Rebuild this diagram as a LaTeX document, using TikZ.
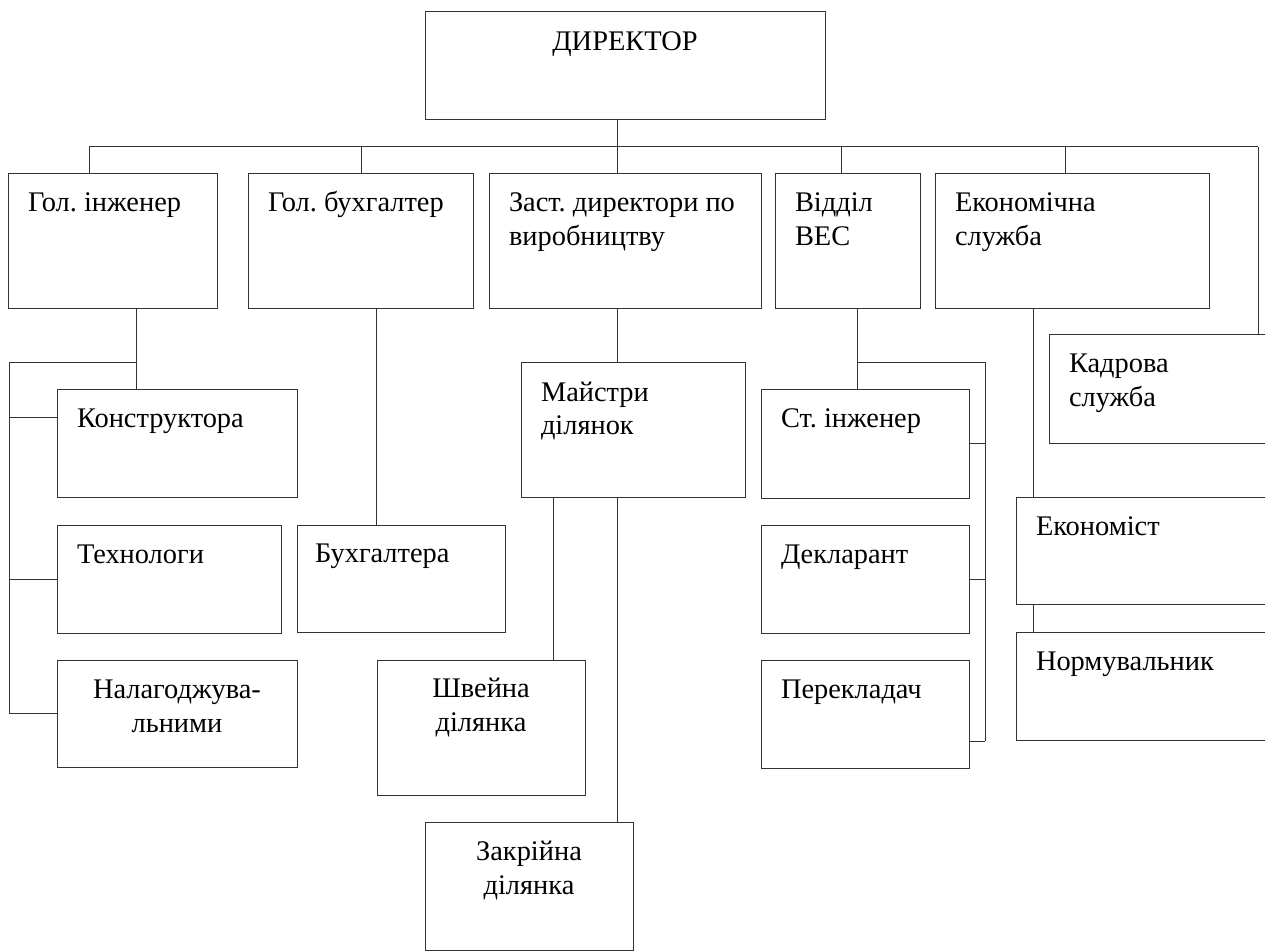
\documentclass[tikz,border=0pt]{standalone}
\usepackage{fontspec}
\setmainfont{Liberation Serif}
\usetikzlibrary{calc}
\tikzset{
  box/.style={draw=black!80, line width=0.5pt, rectangle, inner sep=0pt, outer sep=0pt},
  txt/.style={font=\fontsize{14.2}{17}\selectfont, inner sep=0pt, outer sep=0pt, align=left},
  ctxt/.style={font=\fontsize{14.2}{17}\selectfont, inner sep=0pt, outer sep=0pt, align=center},
  conn/.style={draw=black!80, line width=0.5pt}
}
\newcommand\obox[5]{\node[box,minimum width={(#4-#2)*0.5pt},minimum height={(#5-#3)*0.5pt},anchor=north west] (#1) at (#2,#3) {};}
% one-line text, left aligned (baseline 38px below the box top)
\newcommand\ltext[3]{\node[txt,anchor=base west] (#1) at ($(#2.north west)+(20,38)$) {#3};}
% two-line text, left aligned (base anchor is the last baseline)
\newcommand\ltextt[3]{\node[txt,anchor=base west] (#1) at ($(#2.north west)+(20,72)$) {#3};}
\begin{document}
\begin{tikzpicture}[x=0.5pt,y=-0.5pt]
\useasboundingbox (0,0) rectangle (1265,952);
% boxes
\obox{dir}{425}{12}{825}{120}
\obox{gi}{8}{174}{217}{309}
\obox{gb}{248}{174}{473}{309}
\obox{zd}{489}{174}{761}{309}
\obox{ves}{775}{174}{920}{309}
\obox{es}{935}{174}{1209}{309}
\obox{kon}{57}{390}{297}{497}
\obox{teh}{57}{525}{281}{633}
\obox{nal}{57}{660}{297}{767}
\obox{buh}{297}{525}{505}{632}
\obox{maj}{521}{363}{745}{497}
\obox{shv}{377}{660}{585}{795}
\obox{zak}{425}{822}{633}{950}
\obox{sti}{761}{390}{969}{498}
\obox{dek}{761}{525}{969}{633}
\obox{per}{761}{660}{969}{768}
\obox{kad}{1049}{335}{1270}{444}
\obox{eko}{1016}{497}{1270}{604}
\obox{nor}{1016}{632}{1270}{740}
% texts
\node[ctxt,anchor=base] (tdir) at ($(dir.north)+(0,39)$) {ДИРЕКТОР};
\ltext{tgi}{gi}{Гол.\ інженер}
\ltext{tgb}{gb}{Гол.\ бухгалтер}
\ltextt{tzd}{zd}{Заст.\ директори по\\виробництву}
\ltextt{tves}{ves}{Відділ\\ВЕС}
\ltextt{tes}{es}{Економічна\\служба}
\ltext{tkon}{kon}{Конструктора}
\ltext{tteh}{teh}{Технологи}
\node[ctxt,anchor=base] (tnal) at ($(nal.north)+(0,72)$) {Налагоджува-\\льними};
\node[txt,anchor=base west] (tbuh) at ($(buh.north west)+(18,37)$) {Бухгалтера};
\ltextt{tmaj}{maj}{Майстри\\ділянок}
\node[ctxt,anchor=base] (tshv) at ($(shv.north)+(0,71)$) {Швейна\\ділянка};
\node[ctxt,anchor=base] (tzak) at ($(zak.north)+(0,72)$) {Закрійна\\ділянка};
\ltext{tsti}{sti}{Ст.\ інженер}
\ltext{tdek}{dek}{Декларант}
\ltext{tper}{per}{Перекладач}
\ltextt{tkad}{kad}{Кадрова\\служба}
\ltext{teko}{eko}{Економіст}
\ltext{tnor}{nor}{Нормувальник}
% junction coordinates
\coordinate (b1) at (89,147);
\coordinate (b2) at (361,147);
\coordinate (b3) at (617,147);
\coordinate (b4) at (841,147);
\coordinate (b5) at (1065,147);
\coordinate (b6) at (1258,147);
\coordinate (giv) at (136,309);
\coordinate (gij) at (136,363);
\coordinate (gil) at (9,363);
\coordinate (gbv) at (376,309);
\coordinate (zdv) at (617,309);
\coordinate (mj1) at (553,497);
\coordinate (mj2) at (617,497);
\coordinate (vv) at (857,309);
\coordinate (vj) at (857,363);
\coordinate (vr) at (985,363);
\coordinate (esv) at (1033,309);
\coordinate (ekv) at (1033,604);
% connectors
\draw[conn] (b1) -- (b6);
\draw[conn] (dir.south -| b3) -- (zd.north -| b3);
\draw[conn] (b1) -- (gi.north -| b1);
\draw[conn] (b2) -- (gb.north -| b2);
\draw[conn] (b4) -- (ves.north -| b4);
\draw[conn] (b5) -- (es.north -| b5);
\draw[conn] (b6) -- (kad.north -| b6);
% chief engineer
\draw[conn] (giv) -- (kon.north -| giv);
\draw[conn] (gij) -- (gil) -- (gil |- nal.west);
\draw[conn] (gil |- 0,418) -- (kon.west |- 0,418);
\draw[conn] (gil |- teh.west) -- (teh.west);
\draw[conn] (gil |- nal.west) -- (nal.west);
% chief accountant
\draw[conn] (gbv) -- (buh.north -| gbv);
% deputy director
\draw[conn] (zdv) -- (maj.north -| zdv);
\draw[conn] (mj1) -- (shv.north -| mj1);
\draw[conn] (mj2) -- (zak.north -| mj2);
% VES
\draw[conn] (vv) -- (sti.north -| vv);
\draw[conn] (vj) -- (vr) -- (vr |- 0,741);
\draw[conn] (sti.east |- 0,444) -- (vr |- 0,444);
\draw[conn] (dek.east |- 0,579) -- (vr |- 0,579);
\draw[conn] (per.east |- 0,741) -- (vr |- 0,741);
% economic service
\draw[conn] (esv) -- (eko.north -| esv);
\draw[conn] (ekv) -- (nor.north -| ekv);
\end{tikzpicture}
\end{document}
